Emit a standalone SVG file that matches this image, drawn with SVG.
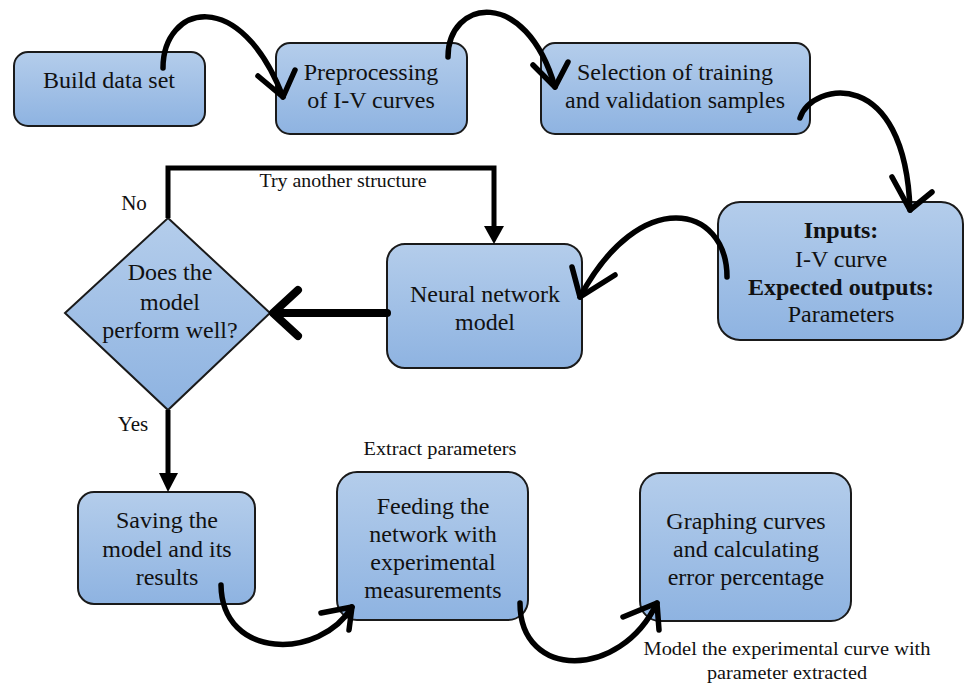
<svg xmlns="http://www.w3.org/2000/svg" width="965" height="685" viewBox="0 0 965 685">
<defs>
<linearGradient id="g" x1="0" y1="0" x2="0" y2="1">
<stop offset="0" stop-color="#b4cdeb"/>
<stop offset="1" stop-color="#8eb3e1"/>
</linearGradient>
<style>
.box{fill:url(#g);stroke:#1a1a1a;stroke-width:2}
text{font-family:'Liberation Serif','Tinos','DejaVu Serif','Noto Serif',serif;fill:#111;text-anchor:middle}
.t{font-size:24px}
.s{font-size:18px}
.b{font-weight:bold}
.c{fill:none;stroke:#000;stroke-width:5.5;stroke-linecap:round;stroke-linejoin:round}
.w{fill:none;stroke:#000;stroke-width:8;stroke-linecap:round;stroke-linejoin:round}
.l{fill:none;stroke:#000;stroke-width:5}
</style>
</defs>
<rect width="965" height="685" fill="#fff"/>

<g id="n1"><rect class="box" x="14" y="52" width="191" height="74" rx="14"/>
<text class="t" x="109" y="88">Build data set</text></g>

<g id="n2"><rect class="box" x="276" y="43" width="191" height="91" rx="14"/>
<text class="t" x="371" y="80">Preprocessing</text><text class="t" x="371" y="108">of I-V curves</text></g>

<g id="n3"><rect class="box" x="541" y="43" width="269" height="91" rx="14"/>
<text class="t" x="675" y="80">Selection of training</text><text class="t" x="675" y="108">and validation samples</text></g>

<g id="n4"><rect class="box" x="718" y="202" width="245" height="138" rx="22"/>
<text class="t b" x="841" y="238">Inputs:</text>
<text class="t" x="841" y="267">I-V curve</text>
<text class="t b" x="841" y="295">Expected outputs:</text>
<text class="t" x="841" y="322">Parameters</text></g>

<g id="n5"><rect class="box" x="387" y="244" width="195" height="124" rx="18"/>
<text class="t" x="485" y="302">Neural network</text><text class="t" x="485" y="330">model</text></g>

<g id="n6"><polygon class="box" points="168,218 270,313 168,410 65,313"/>
<text class="t" x="170" y="280">Does the</text><text class="t" x="170" y="310">model</text><text class="t" x="170" y="338">perform well?</text></g>

<g id="n7"><rect class="box" x="78" y="492" width="177" height="112" rx="16"/>
<text class="t" x="167" y="528">Saving the</text><text class="t" x="167" y="557">model and its</text><text class="t" x="167" y="585">results</text></g>

<g id="n8"><rect class="box" x="337" y="472" width="191" height="148" rx="20"/>
<text class="t" x="433" y="514">Feeding the</text><text class="t" x="433" y="542">network with</text><text class="t" x="433" y="570">experimental</text><text class="t" x="433" y="598">measurements</text></g>

<g id="n9"><rect class="box" x="640" y="473" width="211" height="148" rx="20"/>
<text class="t" x="746" y="529">Graphing curves</text><text class="t" x="746" y="557">and calculating</text><text class="t" x="746" y="585">error percentage</text></g>

<g id="connectors">
<path class="c" d="M163,68 C163,5 240,-15 283,97"/>
<polyline class="c" points="258,76 283,97 295,70"/>
<path class="c" d="M448,57 C448,0 525,-15 555,87"/>
<polyline class="c" points="533,65 555,87 568,62"/>
<path class="c" d="M800,118 C812,82 905,65 910,210"/>
<polyline class="c" points="892,177 910,210 932,192"/>
<path class="c" d="M727,277 C727,205 640,185 580,297"/>
<polyline class="c" points="572,267 580,297 615,275"/>
<path class="c" d="M221,585 C222,660 320,660 352,607"/>
<polyline class="c" points="321,613 352,607 349,630"/>
<path class="c" d="M520,603 C520,680 620,680 657,603"/>
<polyline class="c" points="623,617 657,603 659,630"/>
<polyline class="l" points="168,218 168,168 494,168 494,228"/>
<polygon points="484,226 504,226 494,244" fill="#000"/>
<line class="w" x1="387" y1="313" x2="276" y2="313"/>
<polyline class="w" points="298,290 273,313 298,336"/>
<line class="l" x1="168" y1="410" x2="168" y2="476"/>
<polygon points="159,473 178,473 168,492" fill="#000"/>
</g>

<g id="labels">
<text class="s" x="343" y="187" textLength="167" lengthAdjust="spacingAndGlyphs">Try another structure</text>
<text class="t" x="134" y="210" style="font-size:21px">No</text>
<text class="t" x="133" y="431" style="font-size:21px">Yes</text>
<text class="s" x="440" y="455" textLength="153" lengthAdjust="spacingAndGlyphs">Extract parameters</text>
<text class="s" x="787" y="655" textLength="287" lengthAdjust="spacingAndGlyphs">Model the experimental curve with</text>
<text class="s" x="787" y="679" textLength="160" lengthAdjust="spacingAndGlyphs">parameter extracted</text>
</g>
</svg>
